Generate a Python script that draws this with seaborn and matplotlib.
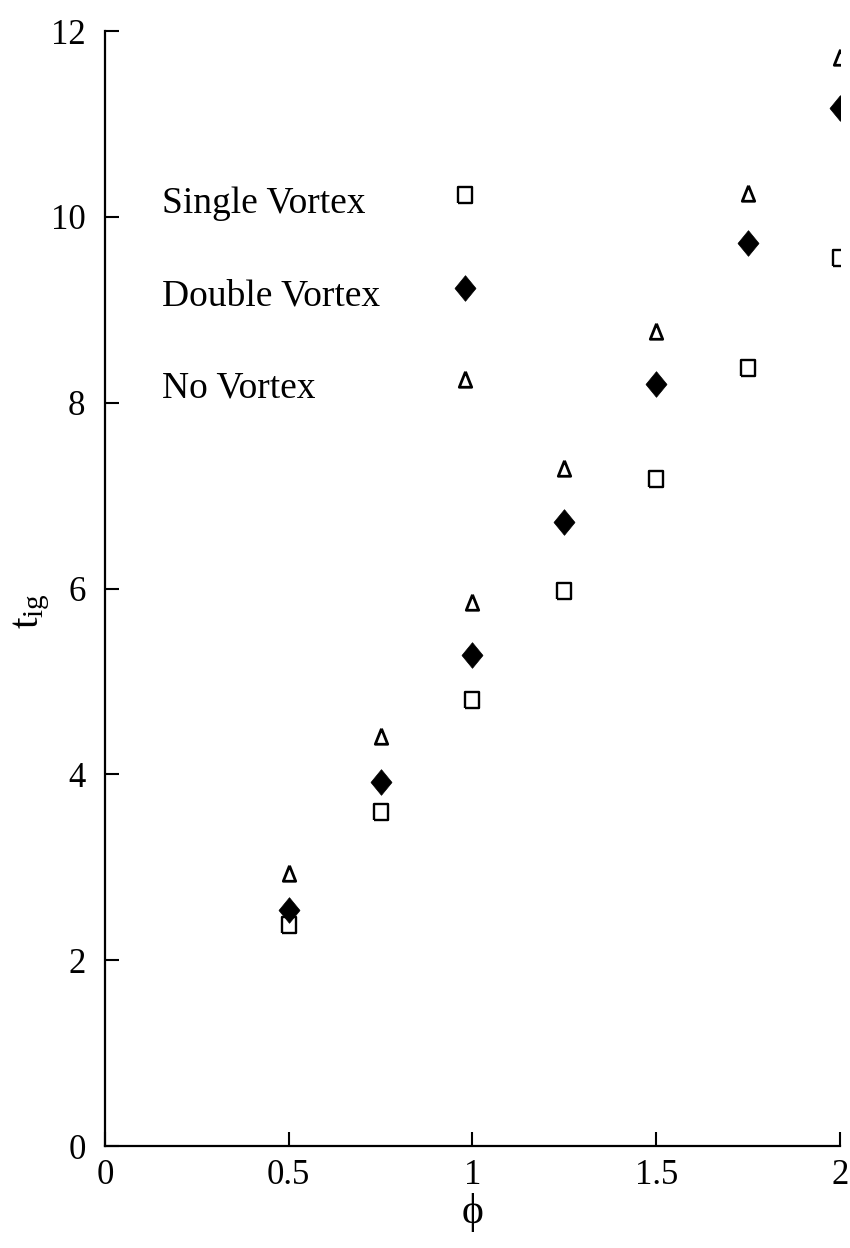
import numpy as np
import pandas as pd
import matplotlib
matplotlib.use("Agg")
import matplotlib.pyplot as plt
import seaborn as sns

# Equivalence ratio and ignition time for each vortex configuration
phi = [0.5, 0.75, 1.0, 1.25, 1.5, 1.75, 2.0]
t_single = [2.38, 3.60, 4.80, 5.97, 7.18, 8.37, 9.56]
t_double = [2.54, 3.92, 5.29, 6.72, 8.20, 9.72, 11.17]
t_none = [2.94, 4.41, 5.86, 7.30, 8.77, 10.26, 11.72]

series_names = ["Single Vortex", "Double Vortex", "No Vortex"]
x_ticks = [0, 0.5, 1, 1.5, 2]
x_ticklabels = ["0", "0.5", "1", "1.5", "2"]
y_ticks = [0, 2, 4, 6, 8, 10, 12]

sns.set_theme(style="ticks")
plt.rcParams["font.family"] = ["Liberation Serif", "DejaVu Serif"]
plt.rcParams["mathtext.fontset"] = "stix"
plt.rcParams["xtick.direction"] = "in"
plt.rcParams["ytick.direction"] = "in"
plt.rcParams["text.color"] = "black"
plt.rcParams["axes.labelcolor"] = "black"
plt.rcParams["xtick.color"] = "black"
plt.rcParams["ytick.color"] = "black"

# Slightly tall marker shapes
square = [(-0.42, -0.5), (0.42, -0.5), (0.42, 0.5), (-0.42, 0.5), (-0.42, -0.5)]
diamond = [(0, 0.5), (0.41, 0), (0, -0.5), (-0.41, 0), (0, 0.5)]
triangle = [(0, 0.5), (-0.4, -0.5), (0.4, -0.5), (0, 0.5)]

styles = {
    "Single Vortex": dict(marker=square, s=145, color="white", edgecolor="black", linewidth=1.7),
    "Double Vortex": dict(marker=diamond, s=340, color="black", edgecolor="black", linewidth=0.5),
    "No Vortex": dict(marker=triangle, s=125, color="white", edgecolor="black", linewidth=2.0),
}

df = pd.DataFrame({
    "phi": phi * 3,
    "t_ig": t_single + t_double + t_none,
    "case": sum([[n] * len(phi) for n in series_names], []),
})

fig = plt.figure(figsize=(8.5, 12.48), dpi=100)
ax = fig.add_axes([0.1235, 0.0817, 0.8647, 0.8934])

for name in series_names:
    sub = df[df["case"] == name]
    sns.scatterplot(data=sub, x="phi", y="t_ig", ax=ax, legend=False, zorder=3, **styles[name])

ax.set_xlim(0, 2)
ax.set_ylim(0, 12)
ax.set_xticks(x_ticks)
ax.set_xticklabels(x_ticklabels)
ax.set_yticks(y_ticks)

for side in ("top", "right"):
    ax.spines[side].set_visible(False)
for side in ("left", "bottom"):
    ax.spines[side].set_linewidth(1.6)
    ax.spines[side].set_color("black")

ax.tick_params(axis="both", direction="in", length=10, width=1.5, colors="black",
               labelsize=25)
ax.tick_params(axis="x", pad=9)
ax.tick_params(axis="y", pad=14)

ax.set_xlabel("ϕ", fontsize=30, labelpad=0, color="black")
ax.xaxis.set_label_coords(0.5, -0.042)
ax.set_ylabel(r"$\mathregular{t_{ig}}$", fontsize=30, rotation=90, color="black")
ax.yaxis.set_label_coords(-0.072, 0.48)

# Key: labels on the left, symbols in a column to their right
key_text_x = 0.078
key_text_y = [0.837, 0.754, 0.671]
key_mark_x = 0.490
key_mark_y = [0.853, 0.770, 0.688]
for name, ty, my in zip(series_names, key_text_y, key_mark_y):
    ax.text(key_text_x, ty, name, transform=ax.transAxes, fontsize=27,
            ha="left", va="baseline", color="black")
    ax.scatter([key_mark_x], [my], transform=ax.transAxes, zorder=3, **styles[name])

fig.savefig("out.png", dpi=100, facecolor="white")
